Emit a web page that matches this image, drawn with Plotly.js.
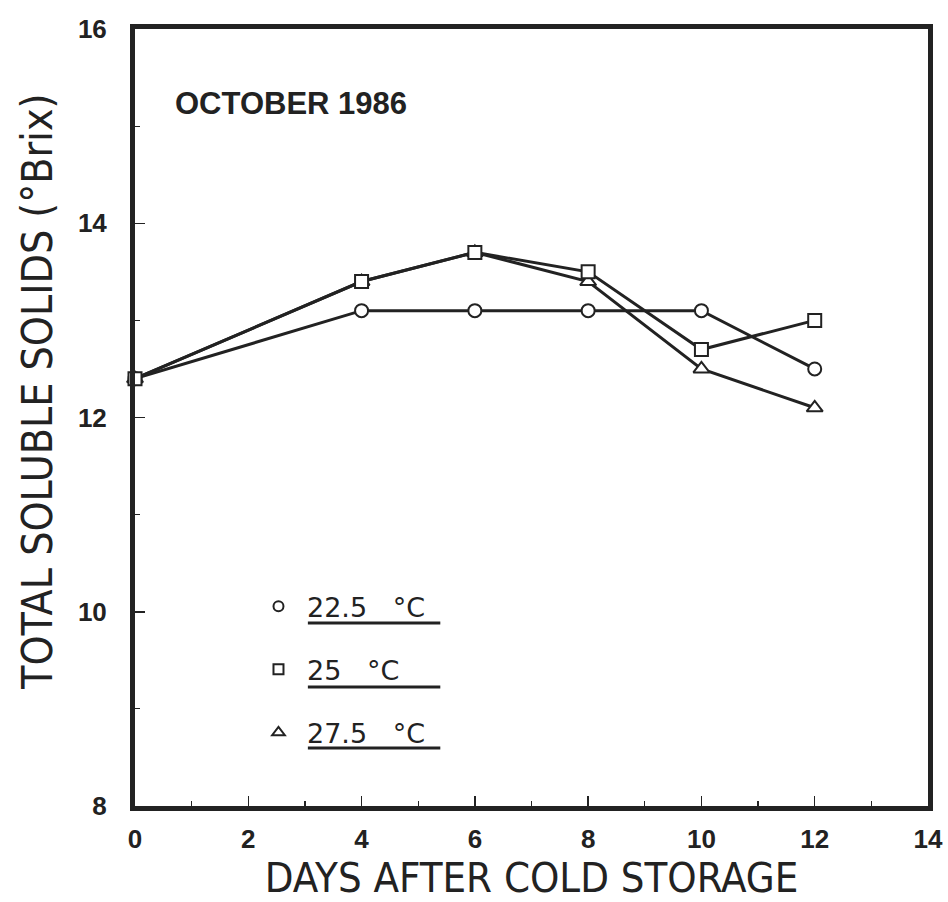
<!DOCTYPE html>
<html>
<head>
<meta charset="utf-8">
<script src="https://cdn.plot.ly/plotly-3.0.1.min.js"></script>
<style>html,body{margin:0;padding:0;background:#fff;}#chart{width:948px;height:902px;}</style>
</head>
<body>
<div id="chart"></div>
<script>
const days = [0, 4, 6, 8, 10, 12];
const t225 = [12.4, 13.1, 13.1, 13.1, 13.1, 12.5];
const t25 = [12.4, 13.4, 13.7, 13.5, 12.7, 13.0];
const t275 = [12.4, 13.4, 13.7, 13.4, 12.5, 12.1];
const seriesNames = ['22.5\u00a0\u00a0\u00a0°C', '25\u00a0\u00a0\u00a0°C', '27.5\u00a0\u00a0\u00a0°C'];
const xTicks = [0, 2, 4, 6, 8, 10, 12, 14];
const yTicks = [8, 10, 12, 14, 16];
const xTitle = 'DAYS AFTER COLD STORAGE';
const yTitle = 'TOTAL SOLUBLE SOLIDS (°Brix)';
const panelLabel = 'OCTOBER 1986';

const ink = '#222';
function series(y, sym, size) {
  return {x: days, y: y, mode: 'lines+markers', showlegend: false, cliponaxis: false,
    line: {color: ink, width: 3},
    marker: {symbol: sym, size: size, color: '#fff', line: {color: ink, width: 2}}};
}
function legendItem(name, sym, size, g) {
  return {x: [null], y: [null], mode: 'markers', name: name, legendgroup: g, showlegend: true,
    marker: {symbol: sym, size: size, color: '#fff', line: {color: ink, width: 2}}};
}
const data = [
  series(t275, 'triangle-up', 14),
  series(t225, 'circle', 13),
  series(t25, 'square', 13),
  legendItem(seriesNames[0], 'circle', 10, 'a'),
  legendItem(seriesNames[1], 'square', 10, 'b'),
  legendItem(seriesNames[2], 'triangle-up', 11, 'c')
];

const axisTickFont = {family: 'Liberation Sans, Arial, sans-serif', size: 26, color: ink, weight: 'bold'};
const titleFont = {family: 'DejaVu Sans Condensed, sans-serif', size: 41.5, color: ink};

const layout = {
  width: 948, height: 902,
  margin: {l: 135, r: 20, t: 29, b: 96},
  paper_bgcolor: '#fff', plot_bgcolor: '#fff',
  showlegend: true,
  legend: {x: 0.145, y: 0.288, xanchor: 'left', yanchor: 'top', bgcolor: 'rgba(0,0,0,0)',
    font: {family: 'DejaVu Sans, sans-serif', size: 27, color: ink},
    traceorder: 'grouped', tracegroupgap: 25, itemwidth: 47},
  xaxis: {range: [0, 14], tickvals: xTicks, ticks: 'inside', ticklen: 10, tickwidth: 1.5, tickcolor: ink,
    showline: true, linewidth: 5, linecolor: ink, mirror: true, showgrid: false, zeroline: false,
    tickfont: axisTickFont, ticklabelstandoff: 6,
    minor: {dtick: 1, ticks: 'inside', ticklen: 5, tickwidth: 1.2, tickcolor: ink, showgrid: false},
    title: {text: xTitle, font: titleFont, standoff: 17}},
  yaxis: {range: [8, 16], tickvals: yTicks, ticks: 'inside', ticklen: 10, tickwidth: 1.5, tickcolor: ink,
    showline: true, linewidth: 5, linecolor: ink, mirror: true, showgrid: false, zeroline: false,
    tickfont: axisTickFont, ticklabelstandoff: 18,
    minor: {dtick: 1, ticks: 'inside', ticklen: 5, tickwidth: 1.2, tickcolor: ink, showgrid: false}},
  annotations: [
    {text: panelLabel, xref: 'paper', yref: 'paper', x: 0.048, y: 0.9035,
      xanchor: 'left', yanchor: 'middle', showarrow: false,
      font: {family: 'Liberation Sans, Arial, sans-serif', size: 31, color: ink, weight: 'bold'}},
    {text: yTitle, xref: 'paper', yref: 'paper', x: -0.1223, y: 0.533, textangle: -90,
      xanchor: 'center', yanchor: 'middle', showarrow: false,
      font: {family: 'DejaVu Sans Condensed, sans-serif', size: 42.5, color: ink}}
  ],
  shapes: [
    {type: 'line', xref: 'paper', yref: 'paper', x0: 0.218, x1: 0.385, y0: 0.2355, y1: 0.2355, line: {color: ink, width: 3}},
    {type: 'line', xref: 'paper', yref: 'paper', x0: 0.218, x1: 0.385, y0: 0.1532, y1: 0.1532, line: {color: ink, width: 3}},
    {type: 'line', xref: 'paper', yref: 'paper', x0: 0.218, x1: 0.385, y0: 0.0746, y1: 0.0746, line: {color: ink, width: 3}}
  ]
};
Plotly.newPlot('chart', data, layout, {displayModeBar: false, staticPlot: true});
</script>
</body>
</html>
